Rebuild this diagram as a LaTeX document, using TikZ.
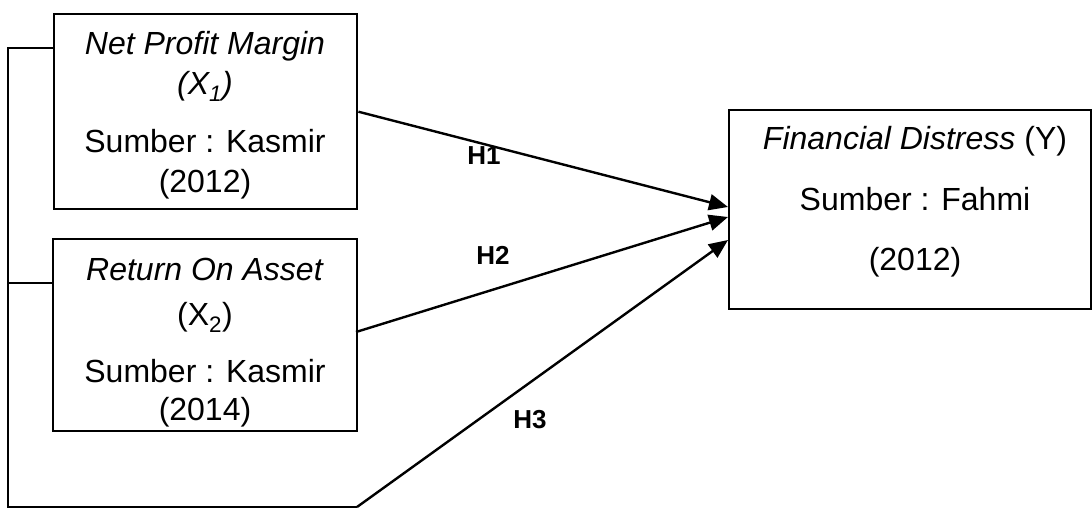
\documentclass[tikz,border=0pt]{standalone}
\usepackage{fontspec}
\setmainfont{Liberation Sans}
\usetikzlibrary{arrows.meta,calc}
\begin{document}
\begin{tikzpicture}[x=1pt,y=-1pt,
  box/.style={draw, line width=2.4pt, inner sep=0pt, anchor=north west},
  txt/.style={anchor=base, inner sep=0pt, font=\fontsize{32}{38}\selectfont},
  hlab/.style={anchor=base, inner sep=0pt, font=\fontsize{26}{30}\selectfont\bfseries},
  conn/.style={line width=2.4pt},
  arr/.style={conn, -{Triangle[length=19pt,width=16pt]}}]
\useasboundingbox (0,0) rectangle (1092,511);
% boxes
\node[box, minimum width=303pt, minimum height=195pt] (b1) at (53,13) {};
\node[box, minimum width=304pt, minimum height=192pt] (b2) at (52,238) {};
\node[box, minimum width=362pt, minimum height=199pt] (Y) at (728,109) {};
% texts box1
\node[txt] (t11) at (205,55) {\textit{Net Profit Margin}};
\node[txt] (t12) at (205,95) {\textit{(X\textsubscript{1})}};
\node[txt] (t13) at (205,152) {Sumber : Kasmir};
\node[txt] (t14) at (205,192) {(2012)};
% texts box2
\node[txt] (t21) at (205,280) {\textit{Return On Asset}};
\node[txt] (t22) at (205,325) {(X\textsubscript{2})};
\node[txt] (t23) at (205,382) {Sumber : Kasmir};
\node[txt] (t24) at (205,420) {(2014)};
% texts Y
\node[txt] (t31) at (915,149) {\textit{Financial Distress} (Y)};
\node[txt] (t32) at (915,210) {Sumber : Fahmi};
\node[txt] (t33) at (915,270) {(2012)};
% hypothesis labels
\node[hlab] (h1) at (484,164) {H1};
\node[hlab] (h2) at (493,264) {H2};
\node[hlab] (h3) at (530,428) {H3};
% coordinates
\coordinate (e1) at (728,207);
\coordinate (e2) at (728,217);
\coordinate (e3) at (728,240);
\coordinate (s2) at (356,332);
\coordinate (lt) at (8,48);
\coordinate (lm) at (8,283);
\coordinate (lb) at (8,507);
\coordinate (bb) at (357,507);
% connectors
\draw[arr] (b1.east) -- (e1);
\draw[arr] (s2) -- (e2);
\draw[conn] (b1.west |- lt) -- (lt) -- (lb) -- (bb);
\draw[arr] (bb) -- (e3);
\draw[conn] (lm) -- (b2.west |- lm);
\end{tikzpicture}
\end{document}
